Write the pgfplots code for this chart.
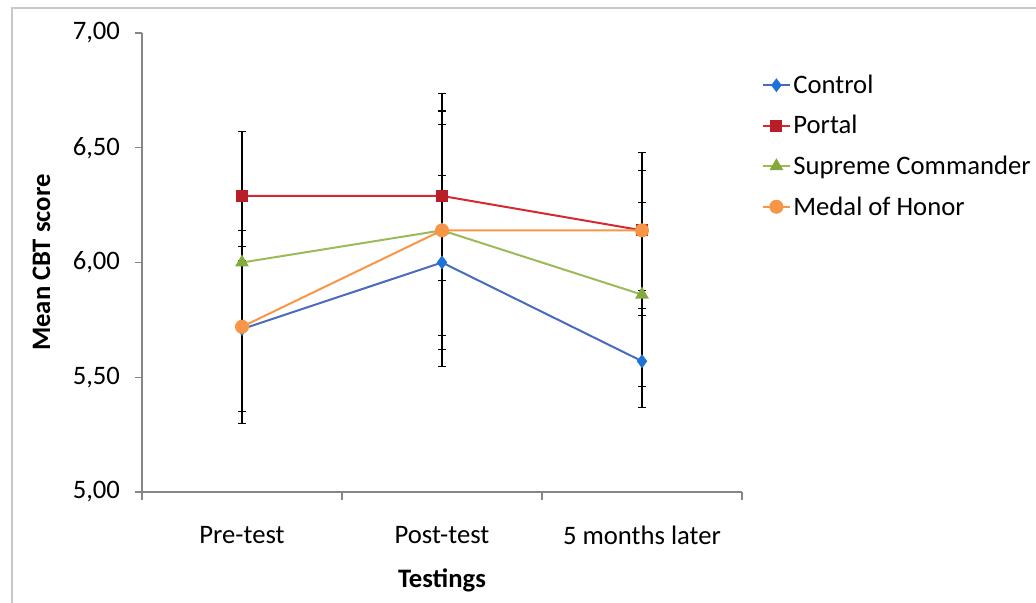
\documentclass[border=0pt]{standalone}
\usepackage{pgfplots}
\pgfplotsset{compat=1.18}
\usepackage{fontspec}
\setmainfont{Carlito}
\definecolor{ctrlL}{RGB}{74,106,190}
\definecolor{ctrlM}{RGB}{30,115,215}
\definecolor{portL}{RGB}{214,40,48}
\definecolor{portM}{RGB}{185,30,40}
\definecolor{supL}{RGB}{155,187,89}
\definecolor{supM}{RGB}{130,170,60}
\definecolor{medL}{RGB}{247,150,70}
\definecolor{axgray}{RGB}{134,134,134}
\definecolor{framegray}{RGB}{200,200,200}
\begin{document}
\begin{tikzpicture}
\useasboundingbox (-106.5pt,-83.25pt) rectangle (670.5pt,369pt);
\draw[framegray, line width=0.8pt] (-97.5pt,-83.25pt) -- (-97.5pt,363pt) -- (670.5pt,363pt);
\begin{axis}[
  at={(0pt,0pt)}, anchor=south west,
  scale only axis, width=450pt, height=344.25pt,
  xmin=0.5, xmax=3.5, ymin=5, ymax=7,
  axis x line*=bottom, axis y line*=left,
  axis line style={axgray, line width=0.8pt},
  xtick={1,2,3}, xticklabels={Pre-test,Post-test,5 months later},
  major x tick style={draw=none},
  minor xtick={0.5,1.5,2.5,3.5},
  minor x tick style={axgray, line width=0.8pt},
  minor tick length=6pt,
  ytick={5,5.5,6,6.5,7},
  major y tick style={axgray, line width=0.8pt},
  major tick length=5pt,
  tick align=outside,
  yticklabel style={/pgf/number format/use comma, /pgf/number format/fixed, /pgf/number format/fixed zerofill, /pgf/number format/precision=2, /pgf/number format/assume math mode=true, xshift=-8pt},
  tick label style={font=\fontsize{20}{24}\selectfont, text=black},
  xticklabel style={yshift=-17pt},
  xlabel={\textbf{Testings}},
  xlabel style={yshift=-11pt},
  ylabel={\textbf{Mean CBT score}},
  ylabel style={yshift=10pt},
  label style={font=\fontsize{20}{24}\selectfont},
  legend style={at={(1.033,0.915)}, anchor=north west, draw=none, fill=none,
    font=\fontsize{20}{24}\selectfont, row sep=11pt, inner sep=0pt,
    nodes={inner xsep=2pt}},
  legend cell align=left,
  legend image code/.code={\draw[mark repeat=2,mark phase=2,#1] plot coordinates {(0pt,0pt)(10pt,0pt)(20pt,0pt)};},
  error bars/error bar style={black, line width=0.8pt},
  error bars/error mark options={rotate=90, mark size=3pt, black, line width=0.8pt},
]
\addplot[ctrlL, line width=1.5pt, mark=diamond*, mark size=4pt, mark options={ctrlM, fill=ctrlM},
  error bars/.cd, y dir=both, y explicit]
  coordinates {(1,5.71) +- (0,0.36) (2,6.00) +- (0,0.38) (3,5.57) +- (0,0.20)};
\addlegendentry{Control}
\addplot[portL, line width=1.5pt, mark=square*, mark size=3.75pt, mark options={portM, fill=portM},
  error bars/.cd, y dir=both, y explicit]
  coordinates {(1,6.29) +- (0,0.28) (2,6.29) +- (0,0.37) (3,6.14) +- (0,0.34)};
\addlegendentry{Portal}
\addplot[supL, line width=1.5pt, mark=triangle*, mark size=4.5pt, mark options={supM, fill=supM},
  error bars/.cd, y dir=both, y explicit]
  coordinates {(1,6.00) +- (0,0.29) (2,6.14) +- (0,0.46) (3,5.86) +- (0,0.40)};
\addlegendentry{Supreme Commander}
\addplot[medL, line width=1.5pt, mark=*, mark size=4.5pt, mark options={medL, fill=medL},
  error bars/.cd, y dir=both, y explicit]
  coordinates {(1,5.72) +- (0,0.42) (2,6.14) +- (0,0.595) (3,6.14) +- (0,0.26)};
\addlegendentry{Medal of Honor}
\end{axis}
\end{tikzpicture}
\end{document}
